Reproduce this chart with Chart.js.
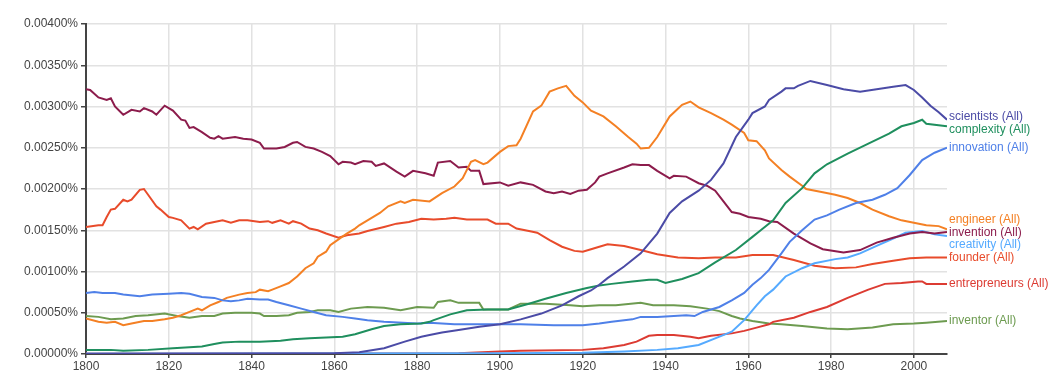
<!DOCTYPE html>
<html>
<head>
<meta charset="utf-8">
<script src="https://cdn.jsdelivr.net/npm/chart.js@4.4.1/dist/chart.umd.min.js"></script>
<style>
  html, body { margin: 0; padding: 0; background: #fff; }
  #wrap { width: 1060px; height: 378px; }
</style>
</head>
<body>
<div id="wrap"><canvas id="ngram"></canvas></div>
<script>
// values are in thousandths of a percent (3.2 -> 0.00320%)
var scientists = [[1800,0],[1850,0.005],[1860,0.01],[1866,0.02],[1872,0.07],[1877,0.15],[1881,0.21],[1883,0.23],[1886,0.26],[1890,0.29],[1895,0.33],[1900,0.36],[1905,0.42],[1910,0.49],[1915,0.59],[1919,0.70],[1922,0.77],[1924,0.84],[1926,0.92],[1930,1.06],[1934,1.22],[1938,1.46],[1941,1.71],[1944,1.85],[1948,1.98],[1951,2.11],[1954,2.31],[1957,2.63],[1960,2.84],[1961,2.92],[1964,3.00],[1965,3.08],[1968,3.18],[1969,3.22],[1971,3.22],[1972,3.25],[1975,3.31],[1979,3.26],[1983,3.21],[1987,3.18],[1991,3.21],[1995,3.24],[1998,3.26],[2000,3.20],[2002,3.11],[2004,3.01],[2006,2.93],[2008,2.84]]
var complexity = [[1800,0.05],[1806,0.05],[1809,0.04],[1815,0.05],[1821,0.07],[1828,0.09],[1831,0.12],[1833,0.14],[1837,0.15],[1842,0.15],[1847,0.16],[1850,0.18],[1854,0.19],[1858,0.20],[1862,0.21],[1865,0.24],[1867,0.27],[1869,0.30],[1872,0.34],[1876,0.36],[1881,0.37],[1883,0.39],[1884,0.41],[1888,0.48],[1892,0.53],[1897,0.54],[1902,0.54],[1907,0.61],[1911,0.67],[1916,0.74],[1921,0.80],[1924,0.83],[1927,0.85],[1932,0.88],[1936,0.90],[1938,0.90],[1940,0.86],[1944,0.91],[1948,0.98],[1952,1.11],[1957,1.26],[1961,1.42],[1963,1.50],[1966,1.62],[1969,1.83],[1973,2.01],[1976,2.19],[1979,2.30],[1984,2.43],[1989,2.55],[1994,2.67],[1997,2.76],[2000,2.80],[2002,2.84],[2003,2.79],[2008,2.76]]
var innovation = [[1800,0.74],[1802,0.75],[1804,0.74],[1807,0.74],[1809,0.72],[1813,0.70],[1816,0.72],[1820,0.73],[1823,0.74],[1825,0.73],[1828,0.69],[1831,0.68],[1833,0.65],[1835,0.64],[1837,0.65],[1839,0.67],[1842,0.66],[1844,0.66],[1846,0.63],[1849,0.59],[1852,0.55],[1855,0.51],[1858,0.47],[1862,0.45],[1865,0.43],[1868,0.41],[1872,0.39],[1880,0.37],[1883,0.38],[1889,0.36],[1897,0.36],[1905,0.36],[1913,0.35],[1920,0.35],[1924,0.37],[1927,0.39],[1932,0.42],[1934,0.45],[1938,0.45],[1942,0.46],[1945,0.47],[1947,0.46],[1949,0.51],[1953,0.57],[1956,0.65],[1959,0.74],[1961,0.84],[1963,0.92],[1965,1.02],[1968,1.22],[1970,1.36],[1973,1.50],[1976,1.63],[1979,1.68],[1982,1.75],[1986,1.83],[1990,1.87],[1993,1.93],[1996,2.01],[1999,2.17],[2002,2.35],[2005,2.44],[2008,2.50]]
var engineer = [[1800,0.43],[1803,0.39],[1805,0.38],[1807,0.39],[1809,0.35],[1811,0.37],[1814,0.40],[1816,0.40],[1819,0.42],[1821,0.44],[1823,0.47],[1825,0.51],[1827,0.55],[1828,0.53],[1830,0.59],[1832,0.63],[1834,0.68],[1837,0.72],[1839,0.74],[1841,0.75],[1842,0.78],[1844,0.76],[1845,0.78],[1847,0.82],[1849,0.86],[1851,0.94],[1853,1.04],[1855,1.10],[1856,1.18],[1858,1.24],[1859,1.32],[1861,1.39],[1863,1.46],[1865,1.52],[1866,1.56],[1868,1.62],[1871,1.71],[1873,1.79],[1876,1.85],[1877,1.83],[1879,1.87],[1883,1.85],[1886,1.95],[1889,2.03],[1891,2.13],[1893,2.33],[1894,2.35],[1896,2.30],[1897,2.32],[1900,2.45],[1902,2.52],[1904,2.53],[1905,2.61],[1908,2.94],[1910,3.01],[1912,3.18],[1914,3.22],[1916,3.25],[1918,3.13],[1920,3.05],[1922,2.95],[1925,2.88],[1928,2.76],[1931,2.63],[1933,2.55],[1934,2.49],[1936,2.50],[1938,2.63],[1941,2.88],[1944,3.02],[1946,3.06],[1948,2.99],[1951,2.92],[1954,2.84],[1956,2.78],[1959,2.68],[1960,2.59],[1962,2.58],[1964,2.47],[1965,2.37],[1968,2.23],[1970,2.15],[1973,2.04],[1974,2.00],[1978,1.96],[1981,1.93],[1984,1.89],[1987,1.83],[1990,1.75],[1994,1.67],[1997,1.62],[2000,1.59],[2003,1.56],[2006,1.55],[2008,1.51]]
var invention = [[1800,3.21],[1801,3.20],[1803,3.11],[1805,3.08],[1806,3.10],[1807,3.00],[1809,2.90],[1811,2.96],[1813,2.94],[1814,2.98],[1816,2.94],[1817,2.90],[1819,3.01],[1821,2.95],[1823,2.84],[1824,2.83],[1825,2.74],[1826,2.75],[1828,2.69],[1830,2.62],[1831,2.61],[1832,2.64],[1833,2.61],[1836,2.63],[1838,2.61],[1840,2.60],[1842,2.56],[1843,2.49],[1846,2.49],[1848,2.51],[1850,2.56],[1851,2.57],[1853,2.51],[1855,2.49],[1857,2.45],[1859,2.40],[1861,2.30],[1862,2.33],[1864,2.32],[1865,2.30],[1867,2.34],[1869,2.33],[1870,2.28],[1872,2.31],[1875,2.21],[1877,2.15],[1879,2.22],[1882,2.19],[1884,2.16],[1885,2.32],[1888,2.34],[1890,2.26],[1892,2.27],[1893,2.22],[1895,2.22],[1896,2.06],[1900,2.08],[1902,2.04],[1905,2.08],[1908,2.05],[1911,1.97],[1913,1.95],[1915,1.97],[1917,1.94],[1919,1.98],[1921,1.99],[1923,2.08],[1924,2.15],[1926,2.19],[1930,2.26],[1932,2.30],[1934,2.29],[1936,2.29],[1938,2.22],[1941,2.13],[1942,2.16],[1945,2.15],[1948,2.07],[1950,2.04],[1952,1.98],[1954,1.85],[1956,1.72],[1958,1.70],[1960,1.66],[1963,1.64],[1965,1.61],[1967,1.60],[1971,1.46],[1975,1.34],[1978,1.27],[1983,1.23],[1987,1.26],[1991,1.35],[1995,1.41],[1999,1.46],[2002,1.48],[2005,1.46],[2008,1.48]]
var creativity = [[1800,0.005],[1900,0.008],[1920,0.015],[1930,0.03],[1938,0.05],[1943,0.07],[1948,0.11],[1952,0.19],[1956,0.27],[1959,0.41],[1962,0.59],[1964,0.70],[1966,0.78],[1969,0.94],[1973,1.04],[1976,1.10],[1981,1.15],[1984,1.17],[1987,1.22],[1991,1.31],[1995,1.40],[1998,1.47],[2002,1.49],[2005,1.45],[2008,1.43]]
var founder = [[1800,1.54],[1803,1.56],[1804,1.56],[1805,1.66],[1806,1.75],[1807,1.76],[1809,1.87],[1810,1.85],[1811,1.87],[1813,1.99],[1814,2.00],[1815,1.93],[1817,1.79],[1818,1.75],[1820,1.66],[1821,1.65],[1823,1.62],[1825,1.52],[1826,1.54],[1827,1.51],[1829,1.58],[1831,1.60],[1833,1.62],[1835,1.59],[1837,1.62],[1839,1.62],[1842,1.60],[1844,1.61],[1845,1.59],[1847,1.62],[1849,1.58],[1850,1.61],[1852,1.58],[1854,1.52],[1856,1.50],[1858,1.46],[1861,1.41],[1863,1.44],[1866,1.46],[1868,1.49],[1872,1.54],[1875,1.58],[1878,1.60],[1881,1.64],[1884,1.63],[1887,1.64],[1889,1.65],[1892,1.63],[1897,1.63],[1899,1.58],[1902,1.58],[1904,1.52],[1907,1.49],[1909,1.47],[1912,1.38],[1915,1.30],[1918,1.25],[1920,1.24],[1922,1.27],[1924,1.30],[1926,1.33],[1930,1.31],[1934,1.26],[1938,1.21],[1943,1.17],[1948,1.16],[1952,1.17],[1957,1.17],[1961,1.20],[1966,1.20],[1971,1.14],[1976,1.07],[1981,1.04],[1986,1.05],[1990,1.09],[1995,1.13],[1999,1.16],[2003,1.17],[2008,1.17]]
var entrepreneurs = [[1800,0.005],[1890,0.008],[1900,0.03],[1905,0.04],[1920,0.05],[1925,0.07],[1930,0.11],[1933,0.15],[1936,0.22],[1938,0.23],[1942,0.23],[1946,0.21],[1948,0.19],[1951,0.22],[1956,0.25],[1959,0.28],[1962,0.32],[1965,0.36],[1966,0.39],[1971,0.44],[1975,0.51],[1979,0.57],[1984,0.68],[1989,0.78],[1993,0.85],[1997,0.86],[2001,0.88],[2002,0.88],[2003,0.85],[2008,0.85]]
var inventor = [[1800,0.46],[1803,0.45],[1806,0.42],[1809,0.43],[1812,0.46],[1815,0.47],[1819,0.49],[1822,0.46],[1825,0.44],[1828,0.46],[1831,0.46],[1833,0.49],[1836,0.50],[1840,0.50],[1842,0.49],[1843,0.46],[1846,0.46],[1849,0.47],[1851,0.50],[1854,0.51],[1856,0.53],[1859,0.53],[1861,0.51],[1864,0.55],[1868,0.57],[1872,0.56],[1876,0.53],[1880,0.57],[1884,0.56],[1885,0.63],[1888,0.65],[1890,0.62],[1895,0.62],[1896,0.54],[1902,0.54],[1905,0.61],[1911,0.61],[1917,0.59],[1920,0.58],[1924,0.59],[1928,0.59],[1934,0.62],[1937,0.59],[1942,0.59],[1946,0.58],[1950,0.55],[1953,0.52],[1956,0.46],[1958,0.43],[1961,0.40],[1965,0.37],[1968,0.36],[1973,0.34],[1979,0.31],[1984,0.30],[1990,0.32],[1995,0.36],[2000,0.37],[2003,0.38],[2008,0.40]]

var seriesNames = ['scientists', 'complexity', 'innovation', 'engineer', 'invention', 'creativity', 'founder', 'entrepreneurs', 'inventor']
var seriesData = [scientists, complexity, innovation, engineer, invention, creativity, founder, entrepreneurs, inventor]
var seriesColors = ['#4b4ba6', '#1f8f5e', '#4f80e8', '#f48024', '#8c1c4c', '#55aaff', '#e84b2b', '#dc3b32', '#6d9b50']

var yearTicks = [1800, 1820, 1840, 1860, 1880, 1900, 1920, 1940, 1960, 1980, 2000]
var FONT = '"Liberation Sans", Arial, sans-serif'

var datasets = seriesNames.map(function (name, i) {
    return {
        label: name + ' (All)',
        data: seriesData[i].map(function (p) { return { x: p[0], y: p[1] } }),
        borderColor: seriesColors[i],
        backgroundColor: seriesColors[i],
        borderWidth: 2,
        pointRadius: 0,
        tension: 0,
        fill: false
    }
})

// labels at the right end of every line, pushed apart when they overlap
var endLabels = {
    id: 'endLabels',
    afterDatasetsDraw: function (chart) {
        var ctx = chart.ctx
        var yScale = chart.scales.y
        var gap = 12.4
        var items = chart.data.datasets.map(function (ds, i) {
            var last = ds.data[ds.data.length - 1]
            return { text: ds.label, color: ds.borderColor, target: yScale.getPixelForValue(last.y) }
        })
        items.sort(function (a, b) { return a.target - b.target })
        var groups = items.map(function (it) { return { items: [it], center: it.target } })
        var merged = true
        while (merged) {
            merged = false
            for (var g = 0; g < groups.length - 1; g++) {
                var a = groups[g], b = groups[g + 1]
                var aBottom = a.center + (a.items.length - 1) * gap / 2
                var bTop = b.center - (b.items.length - 1) * gap / 2
                if (bTop - aBottom < gap) {
                    var all = a.items.concat(b.items)
                    var sum = all.reduce(function (s, it) { return s + it.target }, 0)
                    groups.splice(g, 2, { items: all, center: sum / all.length })
                    merged = true
                    break
                }
            }
        }
        ctx.save()
        ctx.font = '12px ' + FONT
        ctx.textAlign = 'left'
        ctx.textBaseline = 'middle'
        groups.forEach(function (grp) {
            var top = grp.center - (grp.items.length - 1) * gap / 2
            grp.items.forEach(function (it, k) {
                ctx.fillStyle = it.color
                ctx.fillText(it.text, chart.chartArea.right + 2, top + k * gap)
            })
        })
        ctx.restore()
    }
}

new Chart(document.getElementById('ngram'), {
    type: 'line',
    data: { datasets: datasets },
    options: {
        responsive: true,
        maintainAspectRatio: false,
        animation: false,
        layout: { padding: { top: 24, right: 113, left: 0, bottom: 0 } },
        plugins: {
            legend: { display: false },
            tooltip: { enabled: false }
        },
        scales: {
            x: {
                type: 'linear',
                min: 1800,
                max: 2008,
                afterFit: function (s) { s.height = 24 },
                afterBuildTicks: function (s) {
                    s.ticks = yearTicks.map(function (v) { return { value: v } })
                },
                ticks: {
                    font: { family: FONT, size: 12 },
                    color: '#444',
                    padding: 1,
                    maxRotation: 0,
                    autoSkip: false,
                    callback: function (v) { return String(v) }
                },
                grid: { color: '#e2e2e2', lineWidth: 1.5, tickColor: '#444', tickLength: 4 },
                border: { display: true, color: '#444', width: 2 }
            },
            y: {
                min: 0,
                max: 4,
                afterFit: function (s) { s.width = 86 },
                ticks: {
                    stepSize: 0.5,
                    includeBounds: false,
                    font: { family: FONT, size: 12 },
                    color: '#444',
                    padding: 3,
                    callback: function (v) { return (v / 1000).toFixed(5) + '%' }
                },
                grid: { color: '#e2e2e2', lineWidth: 1.5, tickColor: '#444', tickLength: 5 },
                border: { display: true, color: '#444', width: 2 }
            }
        }
    },
    plugins: [endLabels]
})
</script>
</body>
</html>
